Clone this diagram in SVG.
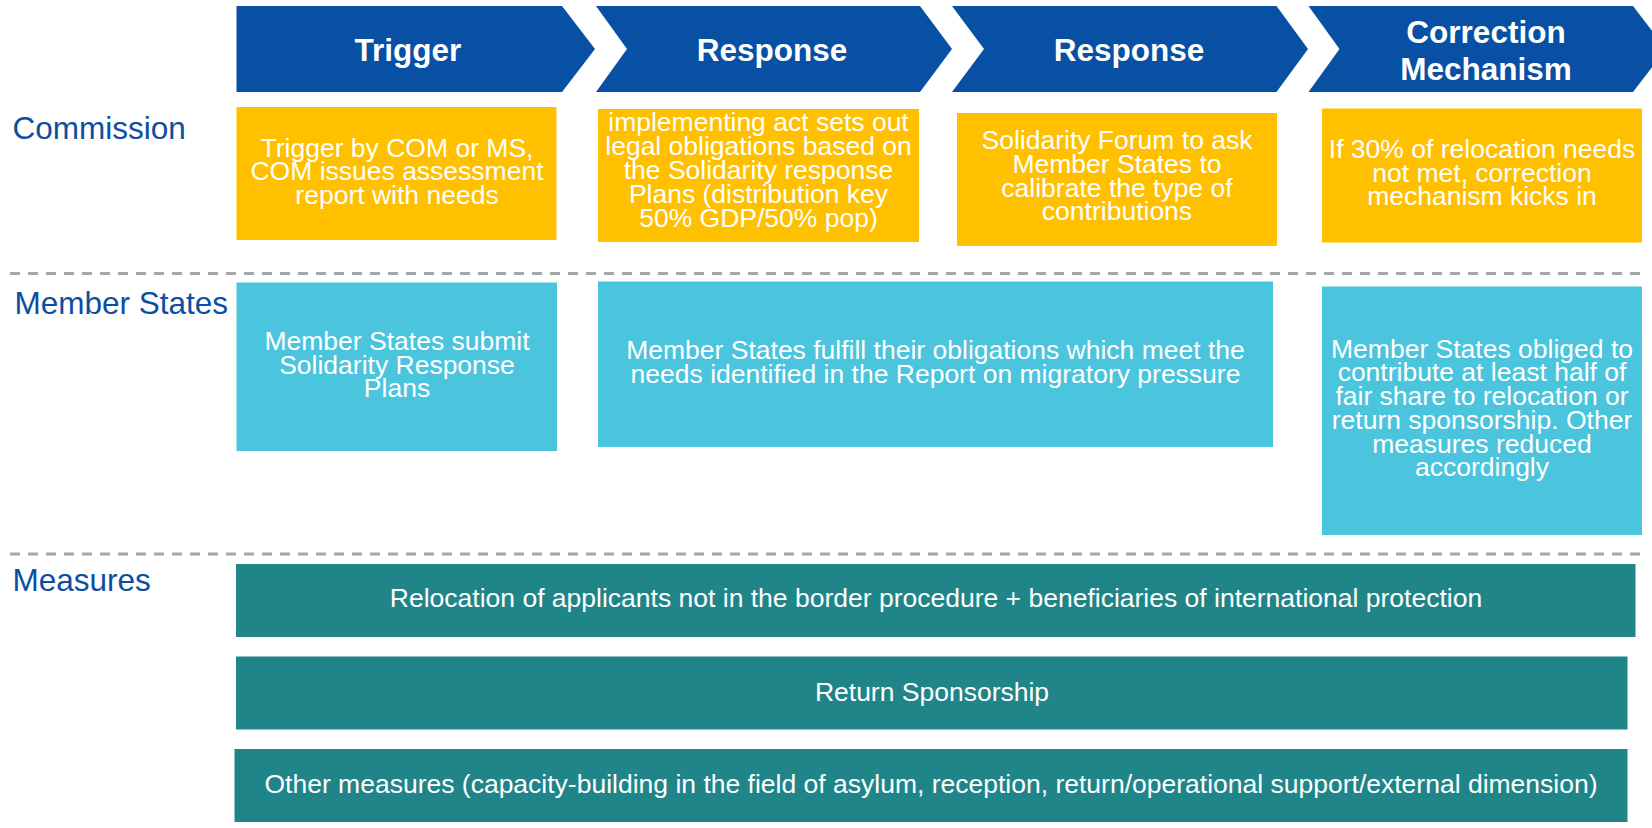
<svg xmlns="http://www.w3.org/2000/svg" width="1652" height="828" viewBox="0 0 1652 828">
<style>
  .chev { fill: #0750A3; }
  .chevtxt { font-family: "Liberation Sans", Arial, sans-serif; font-weight: bold; font-size: 31.5px; fill: #ffffff; text-anchor: middle; }
  .lane { font-family: "Liberation Sans", Arial, sans-serif; font-size: 31.5px; fill: #0B4EA2; }
  .yel { fill: #FFC000; }
  .blu { fill: #4BC4DD; }
  .teal { fill: #1F8589; }
  .t { font-family: "Liberation Sans", Arial, sans-serif; font-size: 26.5px; fill: #ffffff; text-anchor: middle; }
  .sep { stroke: #A6A6A6; stroke-width: 3; stroke-dasharray: 10 8; fill: none; }
</style>
<rect width="1652" height="828" fill="#ffffff"/>

<g id="separators">
  <line class="sep" x1="10" y1="273.5" x2="1648" y2="273.5"/>
  <line class="sep" x1="10" y1="554" x2="1648" y2="554"/>
</g>

<g id="lane-commission"><text class="lane" x="12.5" y="139">Commission</text></g>
<g id="lane-member-states"><text class="lane" x="14.5" y="314">Member States</text></g>
<g id="lane-measures"><text class="lane" x="12.5" y="591">Measures</text></g>

<g id="phase-trigger">
  <polygon class="chev" points="236.5,6 562,6 595,49 562,92 236.5,92"/>
  <text class="chevtxt" x="408" y="61">Trigger</text>
</g>
<g id="phase-response-1">
  <polygon class="chev" points="596,6 920,6 952,49 920,92 596,92 627,49"/>
  <text class="chevtxt" x="772" y="61">Response</text>
</g>
<g id="phase-response-2">
  <polygon class="chev" points="952,6 1276.5,6 1308,49 1276.5,92 952,92 984,49"/>
  <text class="chevtxt" x="1129" y="61">Response</text>
</g>
<g id="phase-correction">
  <polygon class="chev" points="1308.5,6 1633,6 1666,49 1633,92 1308.5,92 1339.5,49"/>
  <text class="chevtxt" x="1486" y="43">Correction</text>
  <text class="chevtxt" x="1486" y="80">Mechanism</text>
</g>

<g id="com-trigger">
  <rect class="yel" x="236.5" y="107" width="320" height="133"/>
  <text class="t" x="397" y="157">Trigger by COM or MS,</text>
  <text class="t" x="397" y="180">COM issues assessment</text>
  <text class="t" x="397" y="203.5">report with needs</text>
</g>
<g id="com-implementing-act">
  <rect class="yel" x="598" y="109" width="321" height="133"/>
  <text class="t" x="758.5" y="131">implementing act sets out</text>
  <text class="t" x="758.5" y="155">legal obligations based on</text>
  <text class="t" x="758.5" y="179">the Solidarity response</text>
  <text class="t" x="758.5" y="203">Plans (distribution key</text>
  <text class="t" x="758.5" y="227">50% GDP/50% pop)</text>
</g>
<g id="com-solidarity-forum">
  <rect class="yel" x="957" y="113" width="320" height="133"/>
  <text class="t" x="1117" y="149">Solidarity Forum to ask</text>
  <text class="t" x="1117" y="173">Member States to</text>
  <text class="t" x="1117" y="196.5">calibrate the type of</text>
  <text class="t" x="1117" y="220">contributions</text>
</g>
<g id="com-correction">
  <rect class="yel" x="1322" y="108.5" width="320" height="134"/>
  <text class="t" x="1482" y="157.5">If 30% of relocation needs</text>
  <text class="t" x="1482" y="181.5">not met, correction</text>
  <text class="t" x="1482" y="205">mechanism kicks in</text>
</g>

<g id="ms-submit-plans">
  <rect class="blu" x="236.5" y="282.5" width="320.5" height="168.5"/>
  <text class="t" x="397" y="349.5">Member States submit</text>
  <text class="t" x="397" y="373.5">Solidarity Response</text>
  <text class="t" x="397" y="397">Plans</text>
</g>
<g id="ms-fulfill">
  <rect class="blu" x="598" y="281.5" width="675" height="165.5"/>
  <text class="t" x="935.5" y="358.5">Member States fulfill their obligations which meet the</text>
  <text class="t" x="935.5" y="382.5">needs identified in the Report on migratory pressure</text>
</g>
<g id="ms-obliged">
  <rect class="blu" x="1322" y="286.5" width="320" height="248.5"/>
  <text class="t" x="1482" y="357.5">Member States obliged to</text>
  <text class="t" x="1482" y="381">contribute at least half of</text>
  <text class="t" x="1482" y="405">fair share to relocation or</text>
  <text class="t" x="1482" y="428.5">return sponsorship. Other</text>
  <text class="t" x="1482" y="452.5">measures reduced</text>
  <text class="t" x="1482" y="476">accordingly</text>
</g>

<g id="measure-relocation">
  <rect class="teal" x="236" y="564" width="1399.5" height="73"/>
  <text class="t" x="936" y="607">Relocation of applicants not in the border procedure + beneficiaries of international protection</text>
</g>
<g id="measure-return-sponsorship">
  <rect class="teal" x="236" y="656.5" width="1391.5" height="73"/>
  <text class="t" x="932" y="700.5">Return Sponsorship</text>
</g>
<g id="measure-other">
  <rect class="teal" x="234.5" y="749" width="1393" height="73"/>
  <text class="t" x="931" y="792.5">Other measures (capacity-building in the field of asylum, reception, return/operational support/external dimension)</text>
</g>
</svg>
